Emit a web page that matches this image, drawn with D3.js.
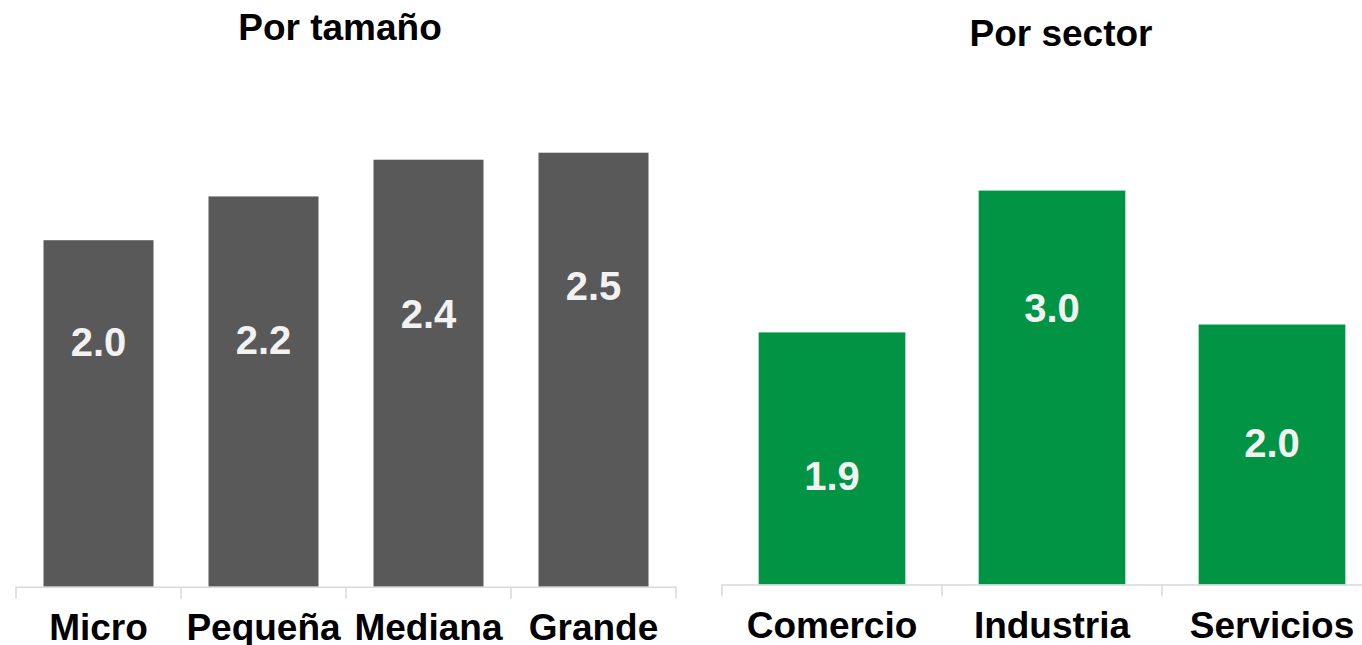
<!DOCTYPE html>
<html>
<head>
<meta charset="utf-8">
<script src="https://d3js.org/d3.v7.min.js"></script>
<style>
  body { margin: 0; background: #ffffff; }
  svg { display: block; font-family: "Liberation Sans", Arial, sans-serif; }
</style>
</head>
<body>
<div id="my_chart"></div>
<script>

// ======================= //
// DATA
// ======================= //

var titulos = ["Por tamaño", "Por sector"]

// Left panel : by size of firm
var tamanos = ["Micro", "Pequeña", "Mediana", "Grande"]
var valoresTamano = [1.98, 2.23, 2.44, 2.48]
// value (in chart units) where each white label sits inside its bar
var anclaTamano = [1.40, 1.41, 1.56, 1.72]

// Right panel : by sector
var sectores = ["Comercio", "Industria", "Servicios"]
var valoresSector = [1.92, 3.0, 1.98]
var anclaSector = [0.83, 2.11, 1.08]


// ======================= //
// SVG AREA
// ======================= //

var svg = d3.select("#my_chart")
  .append("svg")
    .attr("width", 1362)
    .attr("height", 645)

var fmt = d3.format(".1f")


// ======================= //
// ONE PANEL
// ======================= //

function plotPanel(cfg){

  var g = svg.append("g")

  // X scale : band per category, ticks sit between bands
  var x = d3.scaleBand()
    .domain(cfg.cats)
    .range([cfg.left, cfg.right])
    .paddingInner(1/3)
    .paddingOuter(1/6)

  // Y scale
  var y = d3.scaleLinear()
    .domain([0, 1])
    .range([cfg.base, cfg.base - cfg.unit])

  // Bars
  g.selectAll("rect")
    .data(cfg.vals)
    .enter()
    .append("rect")
      .attr("x", function(d, i){ return x(cfg.cats[i]) })
      .attr("width", x.bandwidth())
      .attr("y", function(d){ return y(d) })
      .attr("height", function(d){ return y(0) - y(d) })
      .attr("fill", cfg.color)

  // Value labels inside bars
  g.selectAll(".valLabel")
    .data(cfg.vals)
    .enter()
    .append("text")
      .attr("class", "valLabel")
      .attr("x", function(d, i){ return x(cfg.cats[i]) + x.bandwidth()/2 })
      .attr("y", function(d, i){ return y(cfg.anchors[i]) })
      .attr("dy", "0.36em")
      .attr("text-anchor", "middle")
      .style("font-size", "40px")
      .style("font-weight", "bold")
      .style("fill", "#f2f2f2")
      .text(function(d){ return fmt(d) })

  // Axis line
  g.append("line")
    .attr("x1", cfg.left)
    .attr("x2", cfg.right)
    .attr("y1", y(0) + 0.5)
    .attr("y2", y(0) + 0.5)
    .attr("stroke", "#d9d9d9")
    .attr("stroke-width", 1.5)

  // Ticks between categories
  var tickPos = d3.range(cfg.cats.length + 1).map(function(i){ return cfg.left + i * x.step() })
  g.selectAll(".tick")
    .data(tickPos)
    .enter()
    .append("line")
      .attr("x1", function(d){ return d })
      .attr("x2", function(d){ return d })
      .attr("y1", y(0))
      .attr("y2", y(0) + 12)
      .attr("stroke", "#d9d9d9")
      .attr("stroke-width", 1.5)

  // Category labels
  g.selectAll(".catLabel")
    .data(cfg.cats)
    .enter()
    .append("text")
      .attr("class", "catLabel")
      .attr("x", function(d){ return x(d) + x.bandwidth()/2 })
      .attr("y", cfg.labelY)
      .attr("text-anchor", "middle")
      .style("font-size", "37px")
      .style("font-weight", "bold")
      .style("fill", "#000000")
      .text(function(d){ return d })

  // Title
  g.append("text")
    .attr("x", cfg.titleX)
    .attr("y", cfg.titleY)
    .attr("text-anchor", "middle")
    .style("font-size", "37px")
    .style("font-weight", "bold")
    .style("fill", "#000000")
    .text(cfg.title)
}


plotPanel({
  cats: tamanos, vals: valoresTamano, anchors: anclaTamano,
  color: "#595959",
  left: 16, right: 676, base: 586.7, unit: 175,
  labelY: 640, title: titulos[0], titleX: 340, titleY: 40
})

plotPanel({
  cats: sectores, vals: valoresSector, anchors: anclaSector,
  color: "#009444",
  left: 722, right: 1382, base: 584.5, unit: 131.3,
  labelY: 638, title: titulos[1], titleX: 1061, titleY: 46
})

</script>
</body>
</html>
